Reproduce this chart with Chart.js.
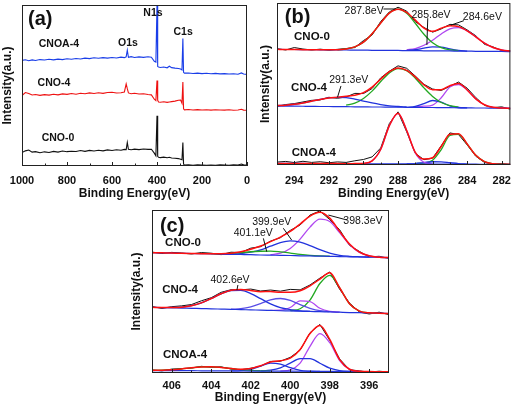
<!DOCTYPE html>
<html lang="en">
<head>
<meta charset="UTF-8">
<title>XPS spectra</title>
<script src="https://cdn.jsdelivr.net/npm/chart.js"></script>
<style>
  html, body { margin: 0; padding: 0; background: #fff; }
  body { width: 520px; height: 404px; position: relative; overflow: hidden; }
  canvas { position: absolute; }
  #chartA { left: 0; top: 0; }
  #chartB { left: 260px; top: 0; }
  #chartC { left: 130px; top: 200px; }
</style>
</head>
<body>
<canvas id="chartA" width="260" height="200"></canvas>
<canvas id="chartB" width="260" height="200"></canvas>
<canvas id="chartC" width="280" height="204"></canvas>
<script>
const FONT = "'Liberation Sans', Arial, sans-serif";

// ---- (a) survey spectra ----
const surveyEnergy = [1000, 985, 970, 955, 940, 920, 900, 880, 860, 840, 820, 800, 780, 760, 740, 720, 700, 680, 660, 640,
  620, 600, 580, 560, 545, 537, 532, 527, 515, 500, 480, 460, 440, 425, 412, 405, 400, 397, 393, 385,
  370, 355, 345, 335, 320, 305, 295, 289, 285, 282, 278, 260, 240, 220, 200, 180, 160, 140, 120, 100,
  80, 60, 40, 25, 15, 0];
const surveyCNO0 = [8.3, 9.4, 9.9, 8.6, 8.9, 8.2, 8.8, 8.4, 9.1, 8.6, 9.3, 8.9, 9.2, 9.0, 9.6, 9.1, 9.7, 9.3, 9.8, 9.4,
  10.0, 9.6, 10.1, 9.8, 10.3, 10.2, 14.6, 10.4, 10.1, 10.5, 10.2, 10.6, 10.3, 10.4, 8.0, 6.3, 31.2, 6.0, 5.4, 5.2,
  5.5, 5.1, 5.4, 5.0, 4.8, 4.6, 4.2, 3.9, 14.6, 1.2, 0.6, 0.8, 0.5, 0.7, 0.6, 0.4, 0.6, 0.5, 0.7, 0.6,
  0.5, 0.7, 0.6, 1.2, 0.7, 0.5];
const surveyCNO4 = [43.8, 45.6, 45.0, 44.1, 44.4, 43.9, 44.3, 44.0, 44.6, 44.2, 44.8, 44.5, 45.0, 44.6, 45.2, 44.9, 45.4, 45.0, 45.5, 45.1,
  45.7, 45.8, 45.3, 45.5, 46.0, 51.0, 48.0, 45.4, 44.9, 45.2, 44.7, 44.9, 44.4, 44.2, 41.5, 40.6, 53.1, 40.8, 39.8, 39.6,
  39.9, 39.5, 39.8, 40.0, 40.3, 40.8, 41.0, 39.0, 52.1, 35.5, 34.9, 35.1, 34.8, 35.0, 34.8, 34.9, 34.7, 34.9, 34.8, 34.7,
  34.9, 34.6, 34.8, 35.2, 34.7, 34.6];
const surveyCNOA4 = [65.6, 66.0, 65.4, 65.9, 65.5, 66.1, 65.8, 66.3, 65.9, 66.4, 66.1, 66.6, 66.3, 66.8, 66.5, 67.0, 66.7, 67.2, 66.9, 67.3,
  67.0, 67.4, 67.1, 67.6, 67.3, 67.8, 71.9, 67.5, 67.9, 67.4, 67.8, 67.5, 67.9, 67.6, 65.0, 64.5, 100, 61.8, 61.5, 61.2,
  61.5, 61.0, 62.0, 61.1, 60.8, 60.6, 60.2, 59.6, 79.2, 58.2, 57.7, 57.8, 57.5, 57.7, 57.4, 57.6, 57.3, 57.5, 57.2, 57.4,
  57.1, 57.3, 57.0, 57.8, 57.1, 56.9];
const surveyTicks = [1000, 800, 600, 400, 200, 0];

// ---- (b) C1s ----
const c1sEnergy = [295, 294.5, 294, 293.5, 293, 292.5, 292, 291.5, 291, 290.5, 290, 289.5, 289, 288.5,
  288, 287.5, 287, 286.5, 286, 285.5, 285, 284.5, 284, 283.5, 283, 282.5, 282, 281.5];
const c1sTicks = [294, 292, 290, 288, 286, 284, 282];

const c1sCNO0Raw = [71.8, 71.0, 72.5, 71.6, 71.0, 71.5, 70.9, 71.4, 71.9, 72.5, 76.8, 80.2, 88.6, 94.5,
  97.4, 95.0, 88.5, 84.9, 82.0, 84.0, 86.8, 86.5, 83.4, 79.8, 74.5, 72.9, 70.6, 70.5];
const c1sCNO0Fit = [71.4, 71.3, 71.3, 71.2, 71.2, 71.1, 71.1, 71.1, 71.6, 72.9, 75.8, 81.0, 87.7, 93.8,
  96.2, 94.2, 89.4, 84.5, 82.5, 84.5, 85.9, 85.4, 82.8, 79.1, 75.2, 72.5, 71.0, 70.3];
const c1sCNO0Base = [71.4, 71.3, 71.3, 71.2, 71.2, 71.1, 71.1, 71.0, 71.0, 70.9, 70.9, 70.8, 70.8, 70.7,
  70.7, 70.6, 70.6, 70.5, 70.5, 70.4, 70.4, 70.3, 70.3, 70.2, 70.2, 70.1, 70.1, 70.0];
const c1sCNO0Peak288 = [null, null, null, null, null, null, null, 71.1, 71.6, 72.9, 75.8, 81.0, 87.7, 93.8,
  96.2, 93.7, 87.5, 80.7, 75.4, 72.4, 71.0, 70.6, null, null, null, null, null, null];
const c1sCNO0Peak286 = [null, null, null, null, null, null, null, null, null, null, null, null, null, null,
  null, 70.7, 71.2, 72.1, 72.9, 72.8, 71.7, 70.8, 70.3, null, null, null, null, null];
const c1sCNO0Peak285 = [null, null, null, null, null, null, null, null, null, null, null, null, null, null,
  null, 71.1, 71.9, 73.9, 77.0, 80.9, 84.0, 84.8, 82.8, 79.1, 75.2, 72.5, 71.0, 70.3];

const c1sCNO4Raw = [36.2, 37.3, 37.9, 38.9, 39.9, 40.2, 41.8, 41.2, 42.0, 44.2, 44.1, 47.2, 53.8, 57.9,
  61.2, 59.7, 54.9, 49.8, 46.9, 46.0, 48.6, 51.2, 47.4, 41.6, 36.8, 35.4, 35.9, 34.4];
const c1sCNO4Fit = [36.7, 36.9, 37.5, 38.3, 39.4, 40.5, 41.4, 41.9, 42.5, 43.0, 44.7, 48.1, 53.0, 57.6,
  59.9, 58.4, 54.4, 49.5, 46.5, 46.5, 49.0, 50.3, 46.3, 40.8, 37.2, 35.6, 35.2, 35.0];
const c1sCNO4Base = [36.4, 36.35, 36.3, 36.25, 36.2, 36.1, 36.1, 36.0, 36.0, 35.9, 35.9, 35.8, 35.8, 35.7,
  35.7, 35.6, 35.6, 35.5, 35.5, 35.4, 35.4, 35.3, 35.3, 35.2, 35.2, 35.1, 35.1, 35.0];
const c1sCNO4Peak291 = [36.7, 36.9, 37.5, 38.3, 39.4, 40.5, 41.4, 41.8, 41.6, 40.7, 39.5, 38.3, 37.3, 36.5,
  36.1, 35.8, null, null, null, null, null, null, null, null, null, null, null, null];
const c1sCNO4Peak288 = [null, null, null, null, null, null, null, null, 36.9, 38.2, 41.1, 45.6, 51.5, 56.8,
  59.5, 58.2, 53.6, 47.6, 42.3, 38.6, 36.7, 35.7, null, null, null, null, null, null];
const c1sCNO4Peak286 = [null, null, null, null, null, null, null, null, null, null, null, null, null, null,
  null, 35.6, 36.2, 37.9, 39.8, 38.8, 36.5, 35.5, 35.3, null, null, null, null, null];
const c1sCNO4Peak285 = [null, null, null, null, null, null, null, null, null, null, null, null, null, null,
  null, null, 35.8, 36.3, 37.0, 41.5, 48.2, 49.7, 46.3, 40.8, 37.2, 35.6, 35.2, 35.0];

const c1sCNOA4Raw = [1.8, 2.2, 1.5, 2.3, 1.6, 2.0, 1.4, 1.9, 1.6, 2.6, 3.4, 5.0, 10.5, 25.6,
  32.8, 20.5, 7.2, 3.3, 4.2, 11.9, 19.8, 18.8, 12.4, 5.4, 1.6, 0.5, 0.9, 0.2];
const c1sCNOA4Fit = [1.0, 1.0, 0.95, 0.95, 0.9, 0.9, 0.85, 0.85, 0.8, 0.85, 1.0, 2.5, 9.7, 24.3,
  31.9, 21.3, 7.85, 3.7, 4.5, 11.4, 19.0, 19.3, 13.0, 6.0, 2.1, 0.75, 0.45, 0.4];
const c1sCNOA4Base = [1.0, 1.0, 0.95, 0.95, 0.9, 0.9, 0.85, 0.85, 0.8, 0.8, 0.8, 0.75, 0.75, 0.7,
  0.7, 0.65, 0.65, 0.6, 0.6, 0.6, 0.55, 0.55, 0.5, 0.5, 0.45, 0.45, 0.4, 0.4];
const c1sCNOA4Peak288 = [null, null, null, null, null, null, null, null, null, 0.85, 1.0, 2.5, 9.7, 24.3,
  31.9, 21.3, 7.4, 1.7, 0.7, null, null, null, null, null, null, null, null, null];
const c1sCNOA4Peak286 = [null, null, null, null, null, null, null, null, null, null, null, null, null, null,
  null, 0.7, 0.9, 1.5, 2.0, 1.9, 1.4, 0.9, 0.6, null, null, null, null, null];
const c1sCNOA4Peak285 = [null, null, null, null, null, null, null, null, null, null, null, null, null, null,
  null, null, 0.85, 1.2, 3.0, 9.5, 18.2, 18.9, 12.9, 6.0, 2.1, 0.75, 0.45, 0.4];

// ---- (c) N1s ----
const n1sEnergy = [407, 406.5, 406, 405.5, 405, 404.5, 404, 403.5, 403, 402.5, 402, 401.5, 401,
  400.5, 400, 399.5, 399, 398.5, 398, 397.5, 397, 396.5, 396, 395.5, 395];
const n1sTicks = [406, 404, 402, 400, 398, 396];

const n1sCNO0Raw = [74.2, 73.3, 74.0, 73.6, 73.0, 73.9, 73.5, 72.6, 74.1, 73.9, 76.6, 77.5, 80.9,
  83.0, 87.5, 90.8, 96.9, 99.4, 94.1, 87.9, 78.3, 74.6, 71.2, 71.6, 70.3];
const n1sCNO0Fit = [73.8, 73.7, 73.6, 73.4, 73.3, 73.2, 73.2, 73.2, 73.5, 74.35, 75.9, 77.9, 80.6,
  83.4, 86.9, 91.4, 96.3, 98.6, 95.0, 86.9, 79.1, 74.1, 71.9, 71.05, 70.8];
const n1sCNO0Base = [73.8, 73.7, 73.6, 73.4, 73.3, 73.2, 73.1, 72.9, 72.8, 72.7, 72.6, 72.4, 72.3,
  72.2, 72.1, 71.9, 71.8, 71.7, 71.6, 71.4, 71.3, 71.2, 71.1, 70.9, 70.8];
const n1sCNO0Peak401 = [null, null, null, null, null, null, 73.2, 73.1, 73.4, 73.8, 74.4, 74.7, 74.8,
  74.35, 73.6, 72.8, 72.2, 71.85, 71.65, null, null, null, null, null, null];
const n1sCNO0Peak400 = [null, null, null, null, null, null, null, 72.95, 73.0, 73.25, 74.1, 75.5, 77.8,
  80.0, 81.1, 80.3, 78.2, 75.7, 73.6, 72.2, 71.6, 71.3, 71.1, null, null];
const n1sCNO0Peak398 = [null, null, null, null, null, null, null, null, null, null, null, null, 72.6,
  73.5, 76.4, 82.1, 89.5, 94.4, 92.9, 86.1, 78.8, 74.0, 71.9, 71.05, 70.8];

const n1sCNO4Raw = [40.8, 39.6, 40.7, 41.2, 42.0, 44.3, 46.2, 49.5, 51.1, 51.0, 51.5, 50.3, 50.9,
  50.2, 51.3, 51.0, 54.0, 58.2, 62.0, 51.4, 42.9, 37.4, 36.2, 37.3, 35.8];
const n1sCNO4Fit = [40.3, 40.15, 40.2, 40.4, 41.3, 43.0, 45.7, 48.6, 50.8, 51.3, 50.6, 49.9, 50.0,
  49.5, 49.5, 50.5, 53.5, 57.6, 61.5, 52.3, 42.5, 38.0, 36.9, 36.7, 36.5];
const n1sCNO4Base = [40.3, 40.1, 40.0, 39.8, 39.7, 39.5, 39.4, 39.2, 39.0, 38.9, 38.7, 38.6, 38.4,
  38.2, 38.1, 37.9, 37.8, 37.6, 37.5, 37.3, 37.1, 37.0, 36.8, 36.7, 36.5];
const n1sCNO4Peak403 = [null, 40.15, 40.2, 40.4, 41.3, 43.0, 45.7, 48.6, 50.6, 50.7, 48.7, 45.6, 42.4,
  40.1, 38.9, 38.15, 37.85, null, null, null, null, null, null, null, null];
const n1sCNO4Peak400 = [null, null, null, null, null, null, null, null, 39.15, 39.5, 40.6, 42.6, 44.8,
  45.7, 44.5, 41.9, 39.7, 38.2, 37.6, null, null, null, null, null, null];
const n1sCNO4Peak399 = [null, null, null, null, null, null, null, null, null, null, null, null, 38.4,
  38.5, 40.2, 44.2, 43.8, 39.7, 37.8, 37.3, null, null, null, null, null];
const n1sCNO4Peak398 = [null, null, null, null, null, null, null, null, null, null, null, null, null,
  null, 38.3, 39.4, 44.75, 54.9, 59.9, 52.3, 42.5, 38.0, 36.9, 36.7, null];

const n1sCNOA4Raw = [1.9, 1.3, 2.4, 2.7, 3.0, 4.1, 3.5, 3.8, 2.4, 2.0, 2.9, 4.2, 7.1,
  7.2, 9.6, 14.0, 24.7, 29.8, 20.0, 8.6, 2.0, 1.3, 0.5, 1.1, 0.6];
const n1sCNOA4Fit = [1.6, 1.7, 2.0, 2.5, 3.2, 3.7, 3.8, 3.4, 2.75, 2.3, 2.7, 4.5, 6.7,
  7.5, 9.1, 14.4, 24.2, 29.2, 20.6, 8.2, 2.3, 1.0, 0.85, 0.83, 0.8];
const n1sCNOA4Base = [1.5, 1.47, 1.45, 1.42, 1.4, 1.35, 1.3, 1.28, 1.25, 1.22, 1.2, 1.18, 1.15,
  1.13, 1.1, 1.07, 1.05, 1.02, 1.0, 0.97, 0.94, 0.9, 0.85, 0.83, 0.8];
const n1sCNOA4Peak404 = [1.6, 1.7, 2.0, 2.5, 3.2, 3.7, 3.8, 3.4, 2.75, 2.1, 1.6, 1.35, 1.2,
  null, null, null, null, null, null, null, null, null, null, null, null];
const n1sCNOA4Peak401 = [null, null, null, null, null, null, null, null, 1.25, 1.4, 2.25, 4.25, 6.1,
  5.5, 3.3, 1.65, 1.15, 1.0, null, null, null, null, null, null, null];
const n1sCNOA4Peak399 = [null, null, null, null, null, null, null, null, null, null, null, 1.25, 1.7,
  3.1, 6.1, 8.8, 8.8, 6.0, 3.0, 1.5, 1.0, 0.9, null, null, null];
const n1sCNOA4Peak398 = [null, null, null, null, null, null, null, null, null, null, null, null, null,
  1.1, 1.9, 6.05, 16.35, 24.2, 18.6, 7.65, 2.2, 1.0, 0.85, null, null];

// colours
const BLACK = '#111111';
const RED = '#ff1010';
const GREEN = '#22a822';
const PURPLE = '#b048f0';
const BLUE = '#2233dd';

function line(energy, values, color, width, smooth) {
  return {
    data: values.map((v, i) => ({ x: energy[i], y: v })),
    borderColor: color,
    borderWidth: width,
    pointRadius: 0,
    fill: false,
    tension: 0,
    cubicInterpolationMode: smooth ? 'monotone' : 'default'
  };
}

// box round the plot area and small inward ticks on the energy axis
const frameTicks = {
  id: 'frameTicks',
  afterDraw(chart, args, opts) {
    const { ctx, chartArea: a, scales: { x } } = chart;
    ctx.save();
    ctx.strokeStyle = '#222';
    ctx.lineWidth = 1;
    ctx.strokeRect(a.left + 0.5, a.top + 0.5, a.right - a.left - 1, a.bottom - a.top - 1);
    const major = opts.ticks || [];
    ctx.beginPath();
    major.forEach((v, i) => {
      const px = Math.round(x.getPixelForValue(v)) + 0.5;
      ctx.moveTo(px, a.bottom);
      ctx.lineTo(px, a.bottom - 4);
      if (i < major.length - 1) {
        const mx = Math.round(x.getPixelForValue((v + major[i + 1]) / 2)) + 0.5;
        ctx.moveTo(mx, a.bottom);
        ctx.lineTo(mx, a.bottom - 2.5);
      }
    });
    ctx.stroke();
    ctx.restore();
  }
};

// peak labels, sample names and leader lines, placed in data coordinates
const peakNotes = {
  id: 'peakNotes',
  afterDatasetsDraw(chart, args, opts) {
    const { ctx, scales: { x, y } } = chart;
    ctx.save();
    ctx.strokeStyle = '#111';
    ctx.fillStyle = '#111';
    ctx.lineWidth = 1;
    (opts.lines || []).forEach(l => {
      ctx.beginPath();
      ctx.moveTo(x.getPixelForValue(l[0]), y.getPixelForValue(l[1]));
      ctx.lineTo(x.getPixelForValue(l[2]), y.getPixelForValue(l[3]));
      ctx.stroke();
    });
    (opts.labels || []).forEach(t => {
      ctx.font = t.font;
      ctx.textAlign = t.align || 'center';
      ctx.textBaseline = 'middle';
      ctx.fillText(t.text, x.getPixelForValue(t.x), y.getPixelForValue(t.y));
    });
    ctx.restore();
  }
};

function makeOptions(cfg) {
  return {
    responsive: false,
    animation: false,
    events: [],
    layout: { padding: cfg.padding },
    plugins: {
      legend: { display: false },
      tooltip: { enabled: false },
      frameTicks: { ticks: cfg.ticks },
      peakNotes: cfg.notes
    },
    scales: {
      x: {
        type: 'linear',
        reverse: true,
        min: cfg.min,
        max: cfg.max,
        afterBuildTicks: s => { s.ticks = cfg.ticks.map(v => ({ value: v })); },
        afterFit: s => { s.height = cfg.xHeight; },
        grid: { display: false, drawTicks: false },
        border: { display: false },
        ticks: {
          color: '#111', padding: cfg.tickPad, maxRotation: 0, autoSkip: false,
          font: { family: FONT, size: 11, weight: 'bold' },
          callback: v => String(v)
        },
        title: {
          display: true, text: 'Binding Energy(eV)', color: '#111',
          font: { family: FONT, size: 12, weight: 'bold', lineHeight: 1 },
          padding: { top: 0, bottom: 0 }
        }
      },
      y: {
        min: 0,
        max: 100,
        afterFit: s => { s.width = cfg.yWidth; },
        grid: { display: false, drawTicks: false },
        border: { display: false },
        ticks: { display: false },
        title: {
          display: true, text: 'Intensity(a.u.)', color: '#111',
          font: { family: FONT, size: 12, weight: 'bold', lineHeight: 1 },
          padding: { top: cfg.yTitlePad, bottom: 0 }
        }
      }
    }
  };
}

const bigFont = 'bold 20px ' + FONT;
const nameFont = 'bold 11.5px ' + FONT;
const peakFont = '10.5px ' + FONT;

// (a)
new Chart(document.getElementById('chartA'), {
  type: 'line',
  data: {
    datasets: [
      line(surveyEnergy, surveyCNOA4, '#1a3ee8', 1.1, false),
      line(surveyEnergy, surveyCNO4, '#ee1111', 1.1, false),
      line(surveyEnergy, surveyCNO0, BLACK, 1.1, false)
    ]
  },
  options: makeOptions({
    min: 0, max: 1000, ticks: surveyTicks,
    padding: { top: 5, right: 13, left: 0, bottom: 0 },
    xHeight: 34, yWidth: 22, tickPad: 8, yTitlePad: 2,
    notes: {
      labels: [
        { text: '(a)', x: 973, y: 91.2, font: bigFont, align: 'left' },
        { text: 'N1s', x: 418, y: 95.0, font: 'bold 10.5px ' + FONT },
        { text: 'C1s', x: 284, y: 83.2, font: 'bold 10.5px ' + FONT },
        { text: 'O1s', x: 529, y: 76.4, font: 'bold 10.5px ' + FONT },
        { text: 'CNOA-4', x: 836, y: 75.8, font: 'bold 10.5px ' + FONT },
        { text: 'CNO-4', x: 858, y: 51.6, font: 'bold 10.5px ' + FONT },
        { text: 'CNO-0', x: 840, y: 17.4, font: 'bold 10.5px ' + FONT }
      ]
    }
  }),
  plugins: [frameTicks, peakNotes]
});

// (b)
new Chart(document.getElementById('chartB'), {
  type: 'line',
  data: {
    datasets: [
      line(c1sEnergy, c1sCNO0Fit, RED, 1.5, true),
      line(c1sEnergy, c1sCNO4Fit, RED, 1.5, true),
      line(c1sEnergy, c1sCNOA4Fit, RED, 1.5, true),
      line(c1sEnergy, c1sCNO0Base, BLUE, 1.2, true),
      line(c1sEnergy, c1sCNO4Base, BLUE, 1.2, true),
      line(c1sEnergy, c1sCNOA4Base, BLUE, 1.2, true),
      line(c1sEnergy, c1sCNO0Peak288, GREEN, 1.3, true),
      line(c1sEnergy, c1sCNO0Peak286, BLUE, 1.3, true),
      line(c1sEnergy, c1sCNO0Peak285, PURPLE, 1.3, true),
      line(c1sEnergy, c1sCNO4Peak291, BLUE, 1.3, true),
      line(c1sEnergy, c1sCNO4Peak288, GREEN, 1.3, true),
      line(c1sEnergy, c1sCNO4Peak286, BLUE, 1.3, true),
      line(c1sEnergy, c1sCNO4Peak285, PURPLE, 1.3, true),
      line(c1sEnergy, c1sCNOA4Peak288, PURPLE, 1.3, true),
      line(c1sEnergy, c1sCNOA4Peak286, BLUE, 1.3, true),
      line(c1sEnergy, c1sCNOA4Peak285, GREEN, 1.3, true),
      line(c1sEnergy, c1sCNO0Raw, BLACK, 1, false),
      line(c1sEnergy, c1sCNO4Raw, BLACK, 1, false),
      line(c1sEnergy, c1sCNOA4Raw, BLACK, 1, false)
    ]
  },
  options: makeOptions({
    min: 281.5, max: 295, ticks: c1sTicks,
    padding: { top: 3, right: 2, left: 0, bottom: 0 },
    xHeight: 35, yWidth: 17, tickPad: 9, yTitlePad: 0,
    notes: {
      lines: [
        [288.84, 96.3, 288.17, 96.3],
        [286.28, 90.6, 286.33, 74.1],
        [284.19, 89.1, 284.93, 86.4],
        [291.3, 48.8, 291.5, 41.8]
      ],
      labels: [
        { text: '(b)', x: 294.55, y: 90.8, font: bigFont, align: 'left' },
        { text: 'CNO-0', x: 292.98, y: 79.0, font: nameFont },
        { text: 'CNO-4', x: 293.15, y: 47.5, font: nameFont },
        { text: 'CNOA-4', x: 292.87, y: 7.4, font: nameFont },
        { text: '287.8eV', x: 289.96, y: 94.8, font: peakFont },
        { text: '285.8eV', x: 286.09, y: 92.6, font: peakFont },
        { text: '284.6eV', x: 283.12, y: 91.4, font: peakFont },
        { text: '291.3eV', x: 290.85, y: 52.5, font: peakFont }
      ]
    }
  }),
  plugins: [frameTicks, peakNotes]
});

// (c)
new Chart(document.getElementById('chartC'), {
  type: 'line',
  data: {
    datasets: [
      line(n1sEnergy, n1sCNO0Fit, RED, 1.5, true),
      line(n1sEnergy, n1sCNO4Fit, RED, 1.5, true),
      line(n1sEnergy, n1sCNOA4Fit, RED, 1.5, true),
      line(n1sEnergy, n1sCNO0Base, BLUE, 1.2, true),
      line(n1sEnergy, n1sCNO4Base, BLUE, 1.2, true),
      line(n1sEnergy, n1sCNOA4Base, BLUE, 1.2, true),
      line(n1sEnergy, n1sCNO0Peak401, GREEN, 1.3, true),
      line(n1sEnergy, n1sCNO0Peak400, BLUE, 1.3, true),
      line(n1sEnergy, n1sCNO0Peak398, PURPLE, 1.3, true),
      line(n1sEnergy, n1sCNO4Peak403, BLUE, 1.3, true),
      line(n1sEnergy, n1sCNO4Peak400, '#5a4ee6', 1.3, true),
      line(n1sEnergy, n1sCNO4Peak399, PURPLE, 1.3, true),
      line(n1sEnergy, n1sCNO4Peak398, GREEN, 1.3, true),
      line(n1sEnergy, n1sCNOA4Peak404, GREEN, 1.3, true),
      line(n1sEnergy, n1sCNOA4Peak401, BLUE, 1.3, true),
      line(n1sEnergy, n1sCNOA4Peak399, BLUE, 1.3, true),
      line(n1sEnergy, n1sCNOA4Peak398, PURPLE, 1.3, true),
      line(n1sEnergy, n1sCNO0Raw, BLACK, 1, false),
      line(n1sEnergy, n1sCNO4Raw, BLACK, 1, false),
      line(n1sEnergy, n1sCNOA4Raw, BLACK, 1, false)
    ]
  },
  options: makeOptions({
    min: 395, max: 407, ticks: n1sTicks,
    padding: { top: 10, right: 21, left: 0, bottom: 0 },
    xHeight: 31, yWidth: 22, tickPad: 6, yTitlePad: 1,
    notes: {
      lines: [
        [397.14, 93.9, 398.07, 96.9],
        [401.36, 82.6, 401.19, 74.4],
        [400.35, 88.8, 399.93, 81.6],
        [402.65, 54.0, 402.7, 50.9]
      ],
      labels: [
        { text: '(c)', x: 406.6, y: 89.8, font: bigFont, align: 'left' },
        { text: 'CNO-0', x: 405.43, y: 79.9, font: nameFont },
        { text: 'CNO-4', x: 405.58, y: 50.9, font: nameFont },
        { text: 'CNOA-4', x: 405.33, y: 11.0, font: nameFont },
        { text: '399.9eV', x: 400.94, y: 92.8, font: peakFont },
        { text: '398.3eV', x: 396.32, y: 93.4, font: peakFont },
        { text: '401.1eV', x: 401.87, y: 85.7, font: peakFont },
        { text: '402.6eV', x: 403.05, y: 57.1, font: peakFont }
      ]
    }
  }),
  plugins: [frameTicks, peakNotes]
});
</script>
</body>
</html>
